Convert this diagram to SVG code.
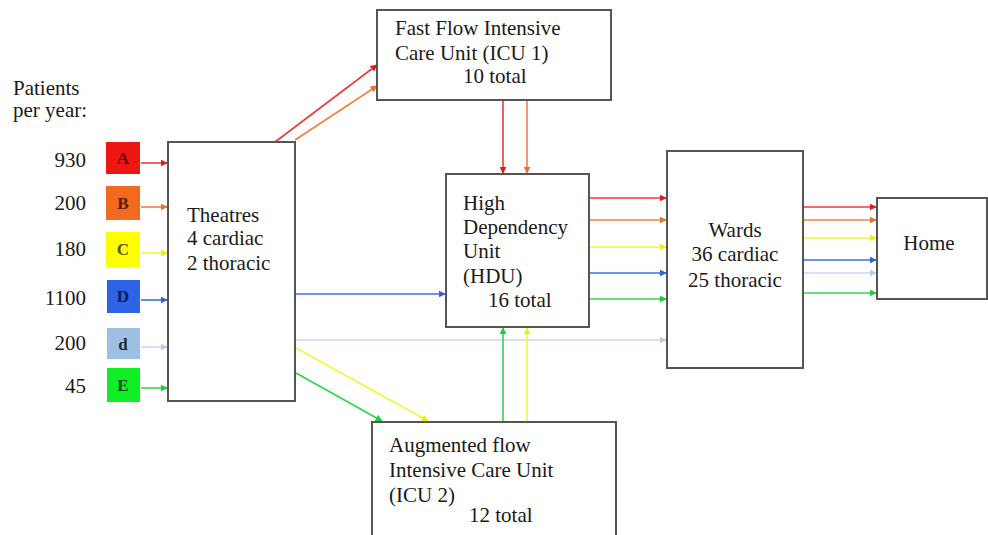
<svg xmlns="http://www.w3.org/2000/svg" width="988" height="535" viewBox="0 0 988 535">
<style>
text{font-family:"Liberation Serif","Times New Roman",serif;font-size:21px;fill:#1a1a1a}
.box{fill:#fff;stroke:#555;stroke-width:2}
.sq text{font-size:17px;text-anchor:middle;font-weight:bold}
.num{text-anchor:end}
.c line{stroke-width:1.6;fill:none}
.r{stroke:#ef3a3a}.o{stroke:#f08040}.y{stroke:#f4f43a}.b{stroke:#3d6ee0}.lb{stroke:#c8d8ee}.g{stroke:#2ed84a}
</style>
<defs>
<marker id="mr" viewBox="0 0 10 10" refX="9" refY="5" markerWidth="7" markerHeight="7" markerUnits="userSpaceOnUse" orient="auto"><path d="M0,0L10,5L0,10z" fill="#e41a1a"/></marker>
<marker id="mo" viewBox="0 0 10 10" refX="9" refY="5" markerWidth="7" markerHeight="7" markerUnits="userSpaceOnUse" orient="auto"><path d="M0,0L10,5L0,10z" fill="#ee7030"/></marker>
<marker id="my" viewBox="0 0 10 10" refX="9" refY="5" markerWidth="7" markerHeight="7" markerUnits="userSpaceOnUse" orient="auto"><path d="M0,0L10,5L0,10z" fill="#eeee10"/></marker>
<marker id="mb" viewBox="0 0 10 10" refX="9" refY="5" markerWidth="7" markerHeight="7" markerUnits="userSpaceOnUse" orient="auto"><path d="M0,0L10,5L0,10z" fill="#2f5fe0"/></marker>
<marker id="ml" viewBox="0 0 10 10" refX="9" refY="5" markerWidth="7" markerHeight="7" markerUnits="userSpaceOnUse" orient="auto"><path d="M0,0L10,5L0,10z" fill="#b8cce8"/></marker>
<marker id="mg" viewBox="0 0 10 10" refX="9" refY="5" markerWidth="7" markerHeight="7" markerUnits="userSpaceOnUse" orient="auto"><path d="M0,0L10,5L0,10z" fill="#18d038"/></marker>
</defs>
<rect width="988" height="535" fill="#fff"/>

<g id="legend">
<text x="13" y="95">Patients</text>
<text x="13" y="117">per year:</text>
<text class="num" x="86" y="167">930</text>
<text class="num" x="86" y="210">200</text>
<text class="num" x="86" y="256">180</text>
<text class="num" x="86" y="305">1100</text>
<text class="num" x="86" y="350">200</text>
<text class="num" x="86" y="393">45</text>
</g>
<g id="sqA" class="sq"><rect x="106" y="142" width="34" height="32" fill="#ee1515"/><text x="123" y="164" style="fill:#6a0000">A</text></g>
<g id="sqB" class="sq"><rect x="106" y="186" width="34" height="34" fill="#f36a1e"/><text x="123" y="209" style="fill:#5a2000">B</text></g>
<g id="sqC" class="sq"><rect x="106" y="232" width="34" height="35" fill="#ffff00"/><text x="123" y="255" style="fill:#555500">C</text></g>
<g id="sqD" class="sq"><rect x="107" y="280" width="33" height="33" fill="#2f63e6"/><text x="123" y="302" style="fill:#0a1a60">D</text></g>
<g id="sqd" class="sq"><rect x="107" y="328" width="33" height="31" fill="#9dc0e2"/><text x="123" y="350" style="fill:#1a2a40">d</text></g>
<g id="sqE" class="sq"><rect x="107" y="368" width="33" height="34" fill="#10ee25"/><text x="123" y="391" style="fill:#0a4a10">E</text></g>

<g id="connectors" class="c">
<line class="r" x1="141" y1="163" x2="167" y2="163" marker-end="url(#mr)"/>
<line class="o" x1="141" y1="207" x2="167" y2="207" marker-end="url(#mo)"/>
<line class="y" x1="141" y1="253" x2="167" y2="253" marker-end="url(#my)"/>
<line class="b" x1="141" y1="300" x2="167" y2="300" marker-end="url(#mb)"/>
<line class="lb" x1="141" y1="347" x2="167" y2="347" marker-end="url(#ml)"/>
<line class="g" x1="141" y1="388" x2="167" y2="388" marker-end="url(#mg)"/>

<line class="r" x1="275" y1="142" x2="377" y2="65" marker-end="url(#mr)"/>
<line class="o" x1="295" y1="140" x2="377" y2="86" marker-end="url(#mo)"/>
<line class="r" x1="503" y1="101" x2="503" y2="173" marker-end="url(#mr)"/>
<line class="o" x1="527" y1="101" x2="527" y2="173" marker-end="url(#mo)"/>

<line class="b" x1="296" y1="294" x2="445" y2="294" marker-end="url(#mb)"/>
<line class="lb" x1="296" y1="340" x2="666" y2="340" marker-end="url(#ml)"/>
<line class="y" x1="296" y1="348" x2="428" y2="421" marker-end="url(#my)"/>
<line class="g" x1="296" y1="373" x2="382" y2="421" marker-end="url(#mg)"/>
<line class="g" x1="503" y1="422" x2="503" y2="328" marker-end="url(#mg)"/>
<line class="y" x1="527" y1="422" x2="527" y2="328" marker-end="url(#my)"/>

<line class="r" x1="590" y1="198" x2="666" y2="198" marker-end="url(#mr)"/>
<line class="o" x1="590" y1="220" x2="666" y2="220" marker-end="url(#mo)"/>
<line class="y" x1="590" y1="247" x2="666" y2="247" marker-end="url(#my)"/>
<line class="b" x1="590" y1="273" x2="666" y2="273" marker-end="url(#mb)"/>
<line class="g" x1="590" y1="299" x2="666" y2="299" marker-end="url(#mg)"/>

<line class="r" x1="804" y1="207" x2="876" y2="207" marker-end="url(#mr)"/>
<line class="o" x1="804" y1="220" x2="876" y2="220" marker-end="url(#mo)"/>
<line class="y" x1="804" y1="238" x2="876" y2="238" marker-end="url(#my)"/>
<line class="b" x1="804" y1="260" x2="876" y2="260" marker-end="url(#mb)"/>
<line class="lb" x1="804" y1="273" x2="876" y2="273" marker-end="url(#ml)"/>
<line class="g" x1="804" y1="293" x2="876" y2="293" marker-end="url(#mg)"/>
</g>

<g id="theatres"><rect class="box" x="168" y="142" width="127" height="259"/>
<text x="187" y="222">Theatres</text><text x="187" y="245">4 cardiac</text><text x="187" y="270">2 thoracic</text></g>

<g id="icu1"><rect class="box" x="377" y="10" width="234" height="90"/>
<text x="395" y="35">Fast Flow Intensive</text><text x="395" y="60">Care Unit (ICU 1)</text><text x="463" y="83">10 total</text></g>

<g id="hdu"><rect class="box" x="446" y="174" width="143" height="153"/>
<text x="463" y="210">High</text><text x="463" y="234">Dependency</text><text x="463" y="258">Unit</text><text x="463" y="283">(HDU)</text><text x="488" y="307">16 total</text></g>

<g id="wards"><rect class="box" x="667" y="151" width="136" height="217"/>
<text x="735" y="237" text-anchor="middle">Wards</text><text x="735" y="261" text-anchor="middle">36 cardiac</text><text x="735" y="287" text-anchor="middle">25 thoracic</text></g>

<g id="home"><rect class="box" x="877" y="198" width="110" height="101"/>
<text x="929" y="250" text-anchor="middle">Home</text></g>

<g id="icu2"><rect class="box" x="372" y="422" width="244" height="130"/>
<text x="389" y="452">Augmented flow</text><text x="389" y="477">Intensive Care Unit</text><text x="389" y="502">(ICU 2)</text><text x="469" y="522">12 total</text></g>
</svg>
